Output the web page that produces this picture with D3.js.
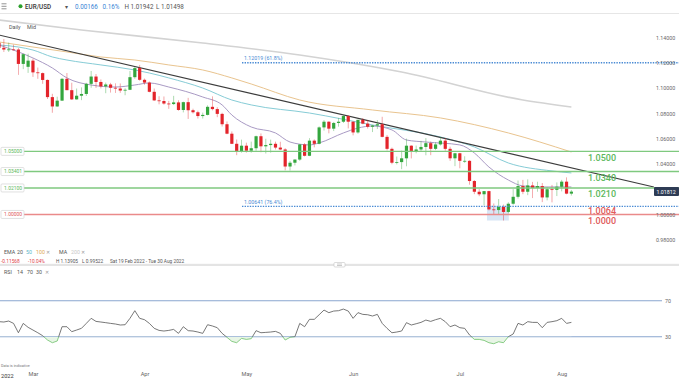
<!DOCTYPE html>
<html>
<head>
<meta charset="utf-8">
<script src="https://cdn.jsdelivr.net/npm/d3@7"></script>
<style>
  body { margin: 0; background: #fff; }
  svg text { font-family: Roboto, "Open Sans", sans-serif; }
</style>
</head>
<body>
<svg id="chart" width="679" height="380"></svg>
<script>
// trading days shown, Feb 18 -> Aug 3 2022
const dates = ["02-18","02-21","02-22","02-23","02-24","02-25","02-28",
  "03-01","03-02","03-03","03-04","03-07","03-08","03-09","03-10","03-11","03-14","03-15","03-16","03-17","03-18",
  "03-21","03-22","03-23","03-24","03-25","03-28","03-29","03-30","03-31",
  "04-01","04-04","04-05","04-06","04-07","04-08","04-11","04-12","04-13","04-14","04-15",
  "04-18","04-19","04-20","04-21","04-22","04-25","04-26","04-27","04-28","04-29",
  "05-02","05-03","05-04","05-05","05-06","05-09","05-10","05-11","05-12","05-13",
  "05-16","05-17","05-18","05-19","05-20","05-23","05-24","05-25","05-26","05-27","05-30","05-31",
  "06-01","06-02","06-03","06-06","06-07","06-08","06-09","06-10","06-13","06-14","06-15","06-16","06-17",
  "06-20","06-21","06-22","06-23","06-24","06-27","06-28","06-29","06-30",
  "07-01","07-04","07-05","07-06","07-07","07-08","07-11","07-12","07-13","07-14","07-15",
  "07-18","07-19","07-20","07-21","07-22","07-25","07-26","07-27","07-28","07-29",
  "08-01","08-02","08-03"];

const open = [1.1360,1.1321,1.1307,1.1308,1.1307,1.1193,1.1170,
  1.1219,1.1126,1.1120,1.1066,1.0930,1.0856,1.0902,1.1075,1.0985,1.0912,1.0941,1.0955,1.1035,1.1093,
  1.1050,1.1015,1.1030,1.1004,1.0998,1.0982,1.0988,1.1088,1.1160,
  1.1067,1.1045,1.0972,1.0904,1.0899,1.0879,1.0875,1.0888,1.0828,1.0890,1.0826,
  1.0810,1.0780,1.0789,1.0853,1.0835,1.0797,1.0715,1.0640,1.0560,1.0500,
  1.0545,1.0505,1.0525,1.0620,1.0540,1.0550,1.0560,1.0530,1.0515,1.0380,
  1.0410,1.0435,1.0555,1.0465,1.0585,1.0560,1.0690,1.0735,1.0680,1.0725,1.0735,1.0780,
  1.0735,1.0650,1.0750,1.0720,1.0695,1.0705,1.0715,1.0615,1.0520,1.0410,1.0415,1.0445,1.0545,
  1.0495,1.0515,1.0535,1.0565,1.0520,1.0555,1.0585,1.0520,1.0445,
  1.0485,1.0425,1.0425,1.0265,1.0180,1.0160,1.0185,1.0040,1.0035,1.0060,1.0020,
  1.0085,1.0140,1.0225,1.0180,1.0230,1.0210,1.0225,1.0135,1.0200,1.0195,
  1.0220,1.0260,1.0165];
const high = [1.1390,1.13905,1.1362,1.1345,1.1320,1.1274,1.1274,
  1.1234,1.1164,1.1125,1.1070,1.0956,1.0933,1.1082,1.1121,1.1044,1.0998,1.1007,1.1043,1.1137,1.1113,
  1.1070,1.1045,1.1043,1.1039,1.1038,1.1000,1.1137,1.1170,1.1185,
  1.1077,1.1054,1.0998,1.0937,1.0935,1.0900,1.0940,1.0905,1.0894,1.0924,1.0838,
  1.0822,1.0807,1.0865,1.0936,1.0850,1.0806,1.0737,1.0658,1.0594,1.0593,
  1.0569,1.0577,1.0625,1.0642,1.0600,1.0593,1.0577,1.0576,1.0525,1.0424,
  1.0437,1.0559,1.0566,1.0605,1.0595,1.0698,1.0748,1.0738,1.0733,1.0765,1.0787,1.0786,
  1.0739,1.0750,1.0764,1.0749,1.0710,1.0748,1.0774,1.0630,1.0530,1.0459,1.0506,1.0601,1.0548,
  1.0546,1.0583,1.0605,1.0578,1.0572,1.0614,1.0606,1.0537,1.0488,
  1.0488,1.0461,1.0429,1.0273,1.0202,1.0186,1.0188,1.0087,1.0122,1.0078,1.0097,
  1.0201,1.0269,1.0274,1.0278,1.0258,1.0259,1.0249,1.0218,1.0234,1.0254,
  1.0274,1.0294,1.0194];
const low = [1.1317,1.1288,1.1288,1.1300,1.1106,1.1152,1.1122,
  1.1090,1.1075,1.1035,1.0915,1.0806,1.0853,1.0900,1.0985,1.0907,1.0910,1.0906,1.0939,1.1004,1.1003,
  1.0999,1.0961,1.0966,1.0963,1.0964,1.0945,1.0986,1.1075,1.1060,
  1.1028,1.0968,1.0900,1.0873,1.0870,1.0837,1.0867,1.0822,1.0809,1.0757,1.0800,
  1.0760,1.0760,1.0785,1.0825,1.0771,1.0697,1.0636,1.0558,1.0470,1.0490,
  1.0490,1.0490,1.0505,1.0493,1.0483,1.0490,1.0515,1.0510,1.0350,1.0348,
  1.0389,1.0425,1.0460,1.0462,1.0532,1.0556,1.0665,1.0643,1.0661,1.0696,1.0725,1.0682,
  1.0627,1.0640,1.0715,1.0681,1.0653,1.0677,1.0611,1.0507,1.0398,1.0397,1.0359,1.0382,1.0444,
  1.0485,1.0502,1.0469,1.0470,1.0510,1.0546,1.0505,1.0425,1.0383,
  1.0366,1.0409,1.0236,1.0161,1.0145,1.0072,1.0032,0.9999,0.9998,0.9952,1.0008,
  1.0077,1.0126,1.0161,1.0153,1.0130,1.0180,1.0098,1.0112,1.0096,1.0146,
  1.0183,1.0160,1.0150];
const close = [1.1321,1.1307,1.1308,1.1307,1.1193,1.1270,1.1219,
  1.1126,1.1120,1.1066,1.0930,1.0856,1.0902,1.1075,1.0985,1.0912,1.0941,1.0955,1.1035,1.1093,1.1050,
  1.1015,1.1030,1.1004,1.0998,1.0982,1.0988,1.1088,1.1160,1.1067,
  1.1045,1.0972,1.0904,1.0899,1.0879,1.0875,1.0888,1.0828,1.0890,1.0826,1.0810,
  1.0780,1.0789,1.0853,1.0835,1.0797,1.0715,1.0640,1.0560,1.0500,1.0545,
  1.0505,1.0525,1.0620,1.0540,1.0550,1.0560,1.0530,1.0515,1.0380,1.0410,
  1.0435,1.0555,1.0465,1.0585,1.0560,1.0690,1.0735,1.0680,1.0725,1.0735,1.0780,1.0735,
  1.0650,1.0750,1.0720,1.0695,1.0705,1.0715,1.0615,1.0520,1.0410,1.0415,1.0445,1.0545,1.0495,
  1.0515,1.0535,1.0565,1.0520,1.0555,1.0585,1.0520,1.0445,1.0485,
  1.0425,1.0425,1.0265,1.0180,1.0160,1.0185,1.0040,1.0035,1.0060,1.0020,1.0085,
  1.0140,1.0225,1.0180,1.0230,1.0210,1.0225,1.0135,1.0200,1.0195,1.0220,
  1.0260,1.0165,1.0181];

const rsi = [46.7,46.3,47.4,44.8,34.4,44.8,40.4,37.4,34.4,31.1,
  26.3,23.3,25.2,41.1,41.1,35.6,37.4,39.3,44.8,50.4,
  47,46.3,45.6,44.8,44.1,43,43.3,50.4,58.9,50.4,
  48.9,44.8,39.3,37,36.3,37,38.1,33.7,41.1,36.7,
  36.3,35.2,33.7,43.3,41.9,40,33.7,29.3,24.8,23.3,
  28.1,27,27.8,36.7,34.4,34.8,35.2,35.9,33.7,26.3,
  29.3,30,44.8,41.1,49.3,49.3,54.4,59.6,56.7,58.5,
  58.9,60.7,58.5,50.4,56.7,54.8,54.4,53,54.8,44.8,
  39.3,34.4,35.2,36.3,45.6,43,44.4,45.9,48.5,47,
  48.9,50.4,46.7,41.1,43,40,39.3,31.9,27,27,
  25.9,23.3,22.2,24.4,23.3,30,33,44.8,43,46.7,
  45.9,45.9,40,45.9,46.7,47.8,50.4,44.8,45.9];

// moving averages (day index, value)
const ema20Idx = [0,7,11,14,19,24,28,31,35,42,46,48,52,57,60,64,66,71,74,77,81,84,88,95,98,101,105,108,112,118];
const ema20Val = [1.1343,1.1240,1.1161,1.1082,1.1026,1.1010,1.1026,1.1042,1.1010,1.0931,1.0868,1.0788,1.0693,1.0646,1.0574,1.0551,1.0567,1.0646,1.0685,1.0701,1.0670,1.0590,1.0574,1.0551,1.0487,1.0376,1.0273,1.0226,1.0218,1.0218];
const ema50Idx = [0,4,7,11,14,21,28,31,35,42,48,52,64,77,91,98,105,114,118];
const ema50Val = [1.1343,1.1327,1.1303,1.1248,1.1224,1.1185,1.1145,1.1121,1.1082,1.1002,1.0907,1.0868,1.0804,1.0709,1.0614,1.0535,1.0408,1.0345,1.0329];
const ema100Idx = [0,7,14,21,28,35,42,48,52,62,77,91,105,118];
const ema100Val = [1.1367,1.1327,1.1288,1.1248,1.1224,1.1185,1.1145,1.1082,1.1034,1.0907,1.0828,1.0765,1.0646,1.0495];
const ma200Idx = [0,17,42,62,83,108,118];
const ma200Val = [1.1541,1.1462,1.1359,1.1264,1.1129,1.0907,1.0852];

const trendIdx = [0, 135];
const trendVal = [1.1422, 1.0218];

const levelVals = [1.05, 1.03401, 1.021, 1.0];
const levelTags = ["1.05000", "1.03401", "1.02100", "1.00000"];
const levelBig = ["1.0500", "1.0340", "1.0210", "1.0000"];
const fibVals = [1.12019, 1.00641];
const fibTags = ["1.12019 (61.8%)", "1.00641 (76.4%)"];

const yTicks = [0.98, 1.00, 1.04, 1.06, 1.08, 1.10, 1.12, 1.14];
const monthIdx = [7, 30, 51, 73, 95, 116];
const monthLabels = ["Mar", "Apr", "May", "Jun", "Jul", "Aug"];
const lastPrice = 1.01812;

const green = "#5cb85c", red = "#e05a5a", up = "#34a63e", down = "#e3242b";

const svg = d3.select("#chart");

let x = d3.scaleLinear().domain([0, 134]).range([-1, 649]);
let y = d3.scaleLinear().domain([0.98, 1.14]).range([239.7, 37.8]);
let ry = d3.scaleLinear().domain([30, 70]).range([336.7, 300.7]);

// header
svg.append("line").attr("x1", 0).attr("x2", 679).attr("y1", 13.5).attr("y2", 13.5)
  .style("stroke", "#e6e6e6");
[3.8, 6.3, 8.8].forEach(v => svg.append("line").attr("x1", 1.5).attr("x2", 6.5)
  .attr("y1", v).attr("y2", v).style("stroke", "#777").style("stroke-width", 0.8));
svg.append("circle").attr("cx", 20.5).attr("cy", 6.3).attr("r", 2).style("fill", "#2ca02c");
const head = [
  {t: "EUR/USD", x: 25, c: "#333", w: 500},
  {t: "\u25BE", x: 65, c: "#555", w: 400},
  {t: "0.00166", x: 75, c: "#3a86d6", w: 400},
  {t: "0.16%", x: 102.5, c: "#3a86d6", w: 400},
  {t: "H 1.01942", x: 124.5, c: "#555", w: 400},
  {t: "L 1.01498", x: 156, c: "#555", w: 400}
];
svg.selectAll(".head").data(head).enter().append("text")
  .attr("x", d => d.x).attr("y", 8.6)
  .style("font-size", "6.3px").style("fill", d => d.c).style("font-weight", d => d.w)
  .text(d => d.t);

// plot clip
svg.append("clipPath").attr("id", "plot")
  .append("rect").attr("x", 0).attr("y", 14).attr("width", 654).attr("height", 248);

const plot = svg.append("g").attr("clip-path", "url(#plot)");

const mkLine = (ix, vals) => d3.line().curve(d3.curveMonotoneX)
  .x((d, i) => x(ix[i])).y(d => y(d))(vals);

plot.append("path").attr("d", mkLine(ma200Idx, ma200Val))
  .style("fill", "none").style("stroke", "#d3d3d3").style("stroke-width", 1.6);
plot.append("path").attr("d", mkLine(ema100Idx, ema100Val))
  .style("fill", "none").style("stroke", "#e9c48f").style("stroke-width", 1);
plot.append("path").attr("d", mkLine(ema50Idx, ema50Val))
  .style("fill", "none").style("stroke", "#86ccd6").style("stroke-width", 1);
plot.append("path").attr("d", mkLine(ema20Idx, ema20Val))
  .style("fill", "none").style("stroke", "#a99ac4").style("stroke-width", 1);

// trend line
plot.append("line")
  .attr("x1", x(trendIdx[0])).attr("y1", y(trendVal[0]))
  .attr("x2", x(trendIdx[1])).attr("y2", y(trendVal[1]))
  .style("stroke", "#3c3c3c").style("stroke-width", 1.1);

// low zone highlight
plot.append("rect")
  .attr("x", x(100.6)).attr("width", x(105.1) - x(100.6))
  .attr("y", y(1.00641)).attr("height", y(0.9952) - y(1.00641))
  .style("fill", "#c9dcf2").style("opacity", 0.7);

// level lines
svg.selectAll(".lvl").data(levelVals).enter().append("line")
  .attr("x1", 24).attr("x2", 679)
  .attr("y1", d => y(d)).attr("y2", d => y(d))
  .style("stroke", d => d === 1.0 ? "#ea8a8a" : "#7fc97f").style("stroke-width", 1.4);

// fib lines
svg.selectAll(".fib").data(fibVals).enter().append("line")
  .attr("x1", 242).attr("x2", 679)
  .attr("y1", d => y(d)).attr("y2", d => y(d))
  .style("stroke", "#4a8bd4").style("stroke-width", 1.4).style("stroke-dasharray", "1.4,1.2");
svg.selectAll(".fibt").data(fibVals).enter().append("text")
  .attr("x", 244).attr("y", d => y(d) - 2.5)
  .style("font-size", "5.3px").style("fill", "#4a8bd4")
  .text((d, i) => fibTags[i]);

// candles
const days = d3.range(dates.length);
const candle = plot.selectAll(".c").data(days).enter().append("g");
candle.append("line")
  .attr("x1", i => x(i)).attr("x2", i => x(i))
  .attr("y1", i => y(high[i])).attr("y2", i => y(low[i]))
  .style("stroke", i => close[i] >= open[i] ? up : down)
  .style("stroke-width", 0.8).style("opacity", 0.5);
candle.append("rect")
  .attr("x", i => x(i) - 1.6).attr("width", 3.2)
  .attr("y", i => y(Math.max(open[i], close[i])))
  .attr("height", i => Math.max(0.8, Math.abs(y(open[i]) - y(close[i]))))
  .style("fill", i => close[i] >= open[i] ? up : down);

// left tags on levels
const tags = svg.selectAll(".tag").data(levelVals).enter().append("g")
  .attr("transform", d => "translate(1," + (y(d) - 4) + ")");
tags.append("rect").attr("width", 23).attr("height", 8).attr("rx", 1)
  .style("fill", "#fff").style("stroke", "#d4d4d4").style("stroke-width", 0.7);
tags.append("text").attr("x", 3).attr("y", 5.8)
  .style("font-size", "5px").style("fill", d => d === 1.0 ? red : green)
  .text((d, i) => levelTags[i]);

// big right labels
svg.selectAll(".big").data(levelVals).enter().append("text")
  .attr("x", 588).attr("y", d => y(d) + 9.5)
  .style("font-size", "9px").style("font-weight", 500)
  .style("fill", d => d === 1.0 ? red : green)
  .text((d, i) => levelBig[i]);
svg.append("text").attr("x", 588).attr("y", y(fibVals[1]) + 7.3)
  .style("font-size", "9px").style("font-weight", 500).style("fill", red)
  .text("1.0064");

// y axis
svg.append("g").attr("transform", "translate(654,0)")
  .call(d3.axisRight(y).tickValues(yTicks).tickFormat(d3.format(".5f")).tickSize(0).tickPadding(2))
  .call(g => g.select(".domain").remove())
  .selectAll("text").style("font-size", "5.3px").style("fill", "#666")
  .style("font-family", "Roboto, sans-serif");

// last price tag
svg.append("rect").attr("x", 654).attr("y", y(lastPrice) - 4.5).attr("width", 25).attr("height", 9)
  .attr("rx", 1).style("fill", "#2e3c55");
svg.append("text").attr("x", 656.5).attr("y", y(lastPrice) + 2)
  .style("font-size", "5.3px").style("fill", "#fff").text(lastPrice.toFixed(5));

// Daily / Mid tab
svg.append("text").attr("x", 9).attr("y", 29).style("font-size", "5.4px").style("fill", "#555").text("Daily");
svg.append("text").attr("x", 27).attr("y", 29).style("font-size", "5.4px").style("fill", "#555").text("Mid");

// legend rows
const leg1 = [
  {t: "EMA", x: 4, c: "#555"}, {t: "20", x: 17, c: "#555"}, {t: "50", x: 26, c: "#5bb8c9"},
  {t: "100", x: 36, c: "#e0a955"}, {t: "\u2715", x: 46, c: "#999"},
  {t: "MA", x: 59, c: "#555"}, {t: "200", x: 71, c: "#c8c8c8"}, {t: "\u2715", x: 81, c: "#999"}
];
svg.selectAll(".l1").data(leg1).enter().append("text")
  .attr("x", d => d.x).attr("y", 254).style("font-size", "5.3px").style("fill", d => d.c).text(d => d.t);
const leg2 = [
  {t: "-0.11568", x: 1, c: "#e0424a"}, {t: "-10.04%", x: 28, c: "#e0424a"},
  {t: "H 1.13905", x: 56, c: "#555"}, {t: "L 0.99522", x: 82, c: "#555"},
  {t: "Sat 19 Feb 2022 - Tue 30 Aug 2022", x: 110, c: "#555"}
];
svg.selectAll(".l2").data(leg2).enter().append("text")
  .attr("x", d => d.x).attr("y", 262.5).style("font-size", "4.8px").style("fill", d => d.c).text(d => d.t);

// panel separator
svg.append("rect").attr("x", 0).attr("y", 263.8).attr("width", 679).attr("height", 2.2).style("fill", "#e4e4e4");
svg.append("rect").attr("x", 334).attr("y", 262.5).attr("width", 11).attr("height", 4.5).attr("rx", 1)
  .style("fill", "#fff").style("stroke", "#c4c4c4").style("stroke-width", 0.6);
[264, 265.5].forEach(v => svg.append("line").attr("x1", 337).attr("x2", 342).attr("y1", v).attr("y2", v)
  .style("stroke", "#999").style("stroke-width", 0.5));

const leg3 = [
  {t: "RSI", x: 4}, {t: "14", x: 17}, {t: "70", x: 27}, {t: "30", x: 36}, {t: "\u2715", x: 45}
];
svg.selectAll(".l3").data(leg3).enter().append("text")
  .attr("x", d => d.x).attr("y", 274).style("font-size", "5.3px")
  .style("fill", d => d.t === "\u2715" ? "#999" : "#555").text(d => d.t);

// RSI panel
svg.selectAll(".rl").data([70, 30]).enter().append("line")
  .attr("x1", 0).attr("x2", 662).attr("y1", d => ry(d)).attr("y2", d => ry(d))
  .style("stroke", "#8aa6cf").style("stroke-width", 1.1);
svg.append("g").attr("transform", "translate(662,0)")
  .call(d3.axisRight(ry).tickValues([70, 30]).tickSize(0).tickPadding(3))
  .call(g => g.select(".domain").remove())
  .selectAll("text").style("font-size", "5.3px").style("fill", "#666")
  .style("font-family", "Roboto, sans-serif");

svg.append("clipPath").attr("id", "rsiTop")
  .append("rect").attr("x", 0).attr("y", 270).attr("width", 654).attr("height", ry(30) - 270);
svg.append("clipPath").attr("id", "rsiBot")
  .append("rect").attr("x", 0).attr("y", ry(30)).attr("width", 654).attr("height", 30);

const rsiLine = d3.line().x((d, i) => x(i)).y(d => ry(d));
const rsiArea = d3.area().x((d, i) => x(i)).y0(ry(30)).y1(d => ry(d));
svg.append("path").attr("d", rsiArea(rsi)).attr("clip-path", "url(#rsiBot)")
  .style("fill", "#e8f5e6");
svg.append("path").attr("d", rsiLine(rsi)).attr("clip-path", "url(#rsiTop)")
  .style("fill", "none").style("stroke", "#555").style("stroke-width", 0.8);
svg.append("path").attr("d", rsiLine(rsi)).attr("clip-path", "url(#rsiBot)")
  .style("fill", "none").style("stroke", "#6cc06a").style("stroke-width", 0.8);

// bottom
svg.append("text").attr("x", 1).attr("y", 367).style("font-size", "3.8px").style("fill", "#777")
  .text("Data is indicative");
svg.append("text").attr("x", 1).attr("y", 378).style("font-size", "5.6px").style("fill", "#333")
  .text("2022");
svg.append("g").attr("transform", "translate(0,372)")
  .call(d3.axisBottom(x).tickValues(monthIdx).tickFormat((d, i) => monthLabels[i]).tickSize(0).tickPadding(0))
  .call(g => g.select(".domain").remove())
  .selectAll("text").style("font-size", "5.6px").style("fill", "#666")
  .style("font-family", "Roboto, sans-serif");
</script>
</body>
</html>
